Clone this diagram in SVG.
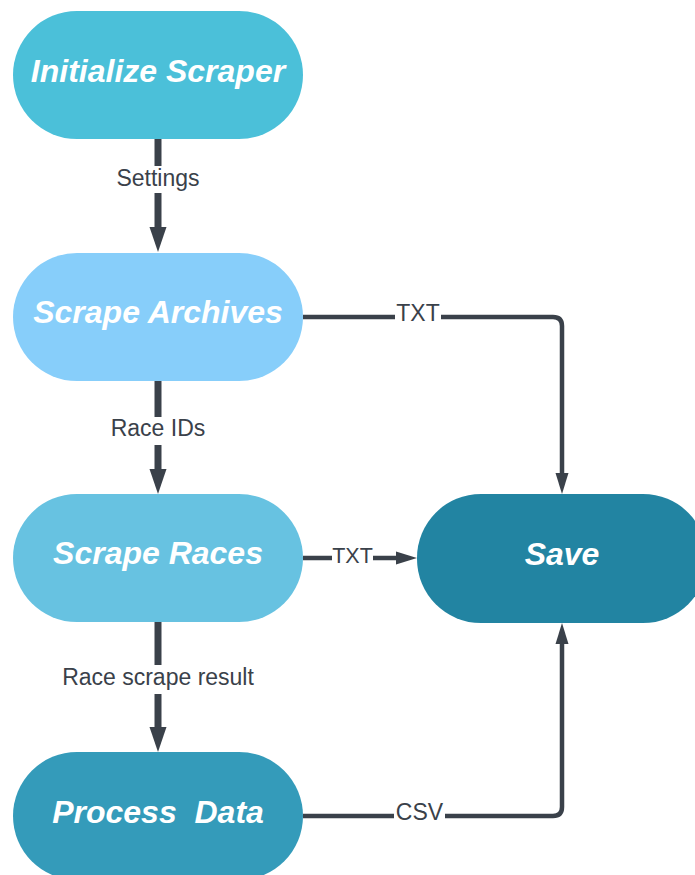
<svg xmlns="http://www.w3.org/2000/svg" width="695" height="875" viewBox="0 0 695 875">
  <defs>
    <!-- large arrowhead for the main vertical flow -->
    <marker id="arrowBig" markerUnits="userSpaceOnUse" markerWidth="26" markerHeight="18" refX="0" refY="8.5" orient="auto" overflow="visible">
      <path d="M0,0 L25,8.5 L0,17 Z" fill="#3a414a"/>
    </marker>
    <!-- smaller arrowhead for the side connectors into Save -->
    <marker id="arrowSmall" markerUnits="userSpaceOnUse" markerWidth="22" markerHeight="14" refX="0" refY="6.5" orient="auto" overflow="visible">
      <path d="M0,0 L21,6.5 L0,13 Z" fill="#3a414a"/>
    </marker>
    <style>
      .node-text { font-family: "Liberation Sans", Arial, sans-serif; font-size: 32px; font-weight: bold; font-style: italic; fill: #ffffff; text-anchor: middle; }
      .edge-main { fill: none; stroke: #3a414a; stroke-width: 7; marker-end: url(#arrowBig); }
      .edge-side { fill: none; stroke: #3a414a; stroke-width: 4.5; marker-end: url(#arrowSmall); }
      .label-bg { fill: #ffffff; }
      .label { font-family: "Liberation Sans", Arial, sans-serif; font-size: 23px; fill: #3a414a; text-anchor: middle; }
      .label-sm { font-size: 21.5px; }
    </style>
  </defs>

  <rect width="695" height="875" fill="#ffffff"/>

  <!-- connectors -->
  <g id="connectors">
    <path class="edge-main" d="M158,139 V227"/>
    <rect class="label-bg" x="112" y="166" width="92" height="27"/>
    <text class="label" x="158" y="186">Settings</text>

    <path class="edge-main" d="M158,381 V469"/>
    <rect class="label-bg" x="104" y="417" width="108" height="28"/>
    <text class="label" x="158" y="436">Race IDs</text>

    <path class="edge-main" d="M158,622 V727"/>
    <rect class="label-bg" x="56" y="665" width="204" height="29"/>
    <text class="label" x="158" y="685">Race scrape result</text>

    <path class="edge-side" d="M303,317 H553 Q562,317 562,326 V473"/>
    <rect class="label-bg" x="395" y="304" width="46" height="20"/>
    <text class="label" x="418" y="321">TXT</text>

    <path class="edge-side" d="M303,558 H396"/>
    <rect class="label-bg" x="332" y="546" width="41" height="20"/>
    <text class="label label-sm" x="352.5" y="563">TXT</text>

    <path class="edge-side" d="M303,816 H553 Q562,816 562,807 V644"/>
    <rect class="label-bg" x="394" y="802" width="51" height="20"/>
    <text class="label" x="419.5" y="820">CSV</text>
  </g>

  <!-- nodes -->
  <g id="initialize-scraper">
    <rect x="13" y="11" width="290" height="128" rx="64" fill="#4bc0d9"/>
    <text class="node-text" x="158" y="82">Initialize Scraper</text>
  </g>

  <g id="scrape-archives">
    <rect x="13" y="253" width="290" height="128" rx="64" fill="#87cefa"/>
    <text class="node-text" x="158" y="323">Scrape Archives</text>
  </g>

  <g id="scrape-races">
    <rect x="13" y="494" width="290" height="128" rx="64" fill="#67c2e1"/>
    <text class="node-text" x="158" y="564">Scrape Races</text>
  </g>

  <g id="process-data">
    <rect x="13" y="752" width="290" height="128" rx="64" fill="#349bba"/>
    <text class="node-text" x="158" y="823" xml:space="preserve">Process  Data</text>
  </g>

  <g id="save">
    <rect x="417" y="494" width="290" height="129" rx="64" fill="#2284a2"/>
    <text class="node-text" x="562" y="565">Save</text>
  </g>
</svg>
